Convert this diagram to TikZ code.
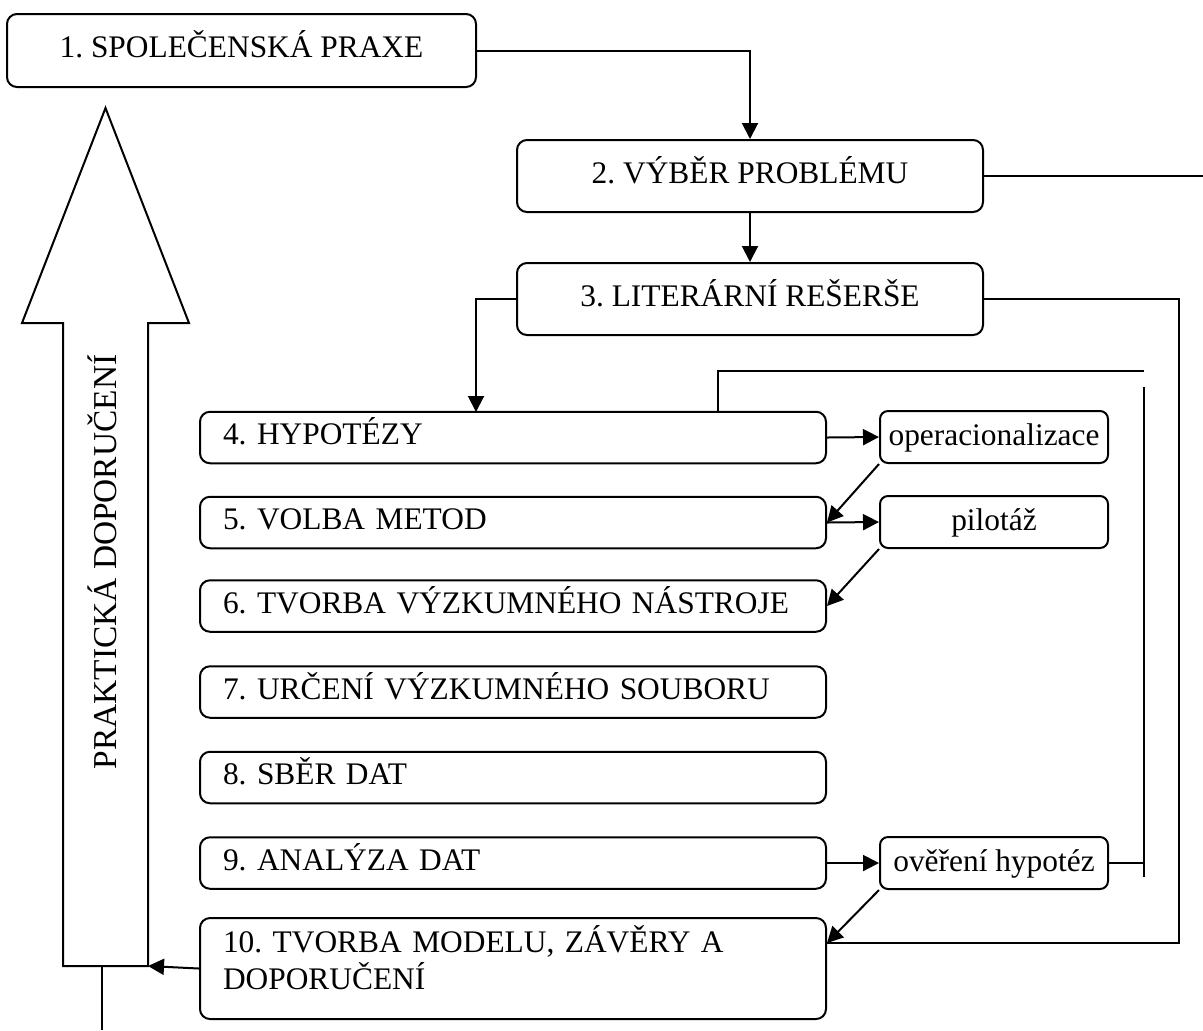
\documentclass[tikz,border=0pt]{standalone}
\usepackage{fontspec}
\setmainfont{Liberation Serif}
\usetikzlibrary{arrows.meta}
\frenchspacing

\begin{document}
\begin{tikzpicture}[x=0.5pt, y=-0.5pt, line width=1pt,
    font=\fontsize{15.7}{18.5}\selectfont]

    \tikzset{
      bigbox/.style={
        draw, rounded corners=5pt, text height=10pt, text depth=3pt,
        minimum width=233pt, minimum height=36pt, inner sep=0pt
      },
      stepbox/.style={
        draw, rounded corners=5pt, align=left,
        text width=290pt, inner xsep=11.5pt, inner ysep=0pt,
        text height=10pt, text depth=3pt, minimum height=25.75pt
      },
      sidebox/.style={
        draw, rounded corners=4pt, text height=11pt, text depth=3pt,
        minimum width=114pt, minimum height=26pt, inner sep=0pt
      },
      arr/.style={-{Triangle[length=8pt, width=8pt]}}
    }

    \useasboundingbox (0,0) rectangle (1203,1030);

    % upper boxes
    \node[bigbox, minimum width=234.5pt, minimum height=36.5pt] (b1) at (241.5,50.5) {1. SPOLEČENSKÁ PRAXE};
    \node[bigbox] (b2) at (750,176) {2. VÝBĚR PROBLÉMU};
    \node[bigbox] (b3) at (750,299) {3. LITERÁRNÍ REŠERŠE};

    % steps
    \node[stepbox] (b4) at (513,437.5) {4. HYPOTÉZY};
    \node[stepbox] (b5) at (513,522.5) {5. VOLBA METOD};
    \node[stepbox] (b6) at (513,606) {6. TVORBA VÝZKUMNÉHO NÁSTROJE};
    \node[stepbox] (b7) at (513,692) {7. URČENÍ VÝZKUMNÉHO SOUBORU};
    \node[stepbox] (b8) at (513,777.5) {8. SBĚR DAT};
    \node[stepbox] (b9) at (513,863) {9. ANALÝZA DAT};
    \node[stepbox, text height=2pt, text depth=18pt, minimum height=50.5pt]
      (b10) at (513,968.5) {10. TVORBA MODELU, ZÁVĚRY A\\DOPORUČENÍ};

    % side boxes
    \node[sidebox] (op) at (994,437) {operacionalizace};
    \node[sidebox] (pil) at (994,522) {pilotáž};
    \node[sidebox] (ov) at (994,863) {ověření hypotéz};

    % big arrow on the left
    \draw (63,966) -- (63,323) -- (22,323) -- (105.5,108)
      -- (189,323) -- (148,323) -- (148,966) -- cycle;
    \node[rotate=90, font=\fontsize{16.7}{19}\selectfont,
      text height=10.6pt, text depth=0pt, inner sep=0pt]
      (prak) at (105.5,562) {PRAKTICKÁ DOPORUČENÍ};

    \coordinate (out2) at (1203,176);
    \coordinate (in4) at (476,412);
    \coordinate (fb0) at (718,412);
    \coordinate (fb1) at (1144,371);
    \coordinate (fb2) at (1144,387);
    \coordinate (fb3) at (1144,877);
    \coordinate (rt) at (1179,943);
    \coordinate (sh) at (148,966);
    \coordinate (sh0) at (102,966);
    \coordinate (sh1) at (102,1030);

    % connectors
    \draw[arr] (b1.east) -| (b2.north);
    \draw (b2.east) -- (out2);
    \draw[arr] (b2.south) -- (b3.north);
    \draw[arr] (b3.west) -| (in4);
    \draw (fb0) |- (fb1);
    \draw (fb2) -- (fb3);
    \draw (ov.east) -- (ov.east -| fb2);
    \draw (b3.east) -| (rt) -- (rt -| b10.east);

    \draw[arr] (b4.east) -- (op.west);
    \draw[arr] (op.south west) -- (b5.east);
    \draw[arr] (b5.east) -- (pil.west);
    \draw[arr] (pil.south west) -- (b6.east);
    \draw[arr] (b9.east) -- (ov.west);
    \draw[arr] (ov.south west) -- (rt -| b10.east);
    \draw[arr] (b10.west) -- (sh);
    \draw (sh0) -- (sh1);

  \end{tikzpicture}
\end{document}
